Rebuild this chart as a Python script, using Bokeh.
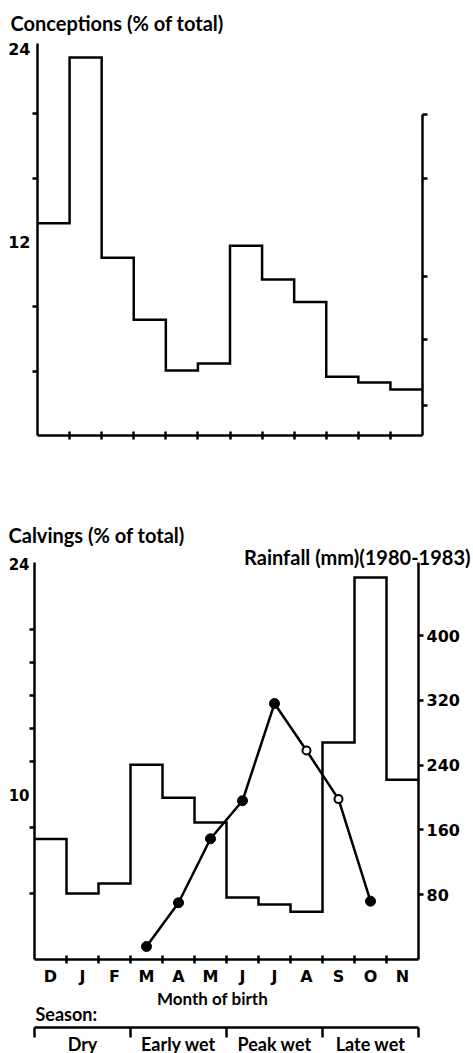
from bokeh.plotting import figure
from bokeh.layouts import column
from bokeh.models import (Range1d, LinearAxis, FixedTicker, CustomJSTickFormatter, Title)
from bokeh.embed import file_html
from bokeh.resources import INLINE
from bokeh.core.properties import value

# ---------------- data ----------------
months_full = ["Dec", "Jan", "Feb", "Mar", "Apr", "May", "Jun", "Jul", "Aug", "Sep", "Oct", "Nov"]
month_labels = ["D", "J", "F", "M", "A", "M", "J", "J", "A", "S", "O", "N"]
conceptions = [13.2, 23.5, 11.05, 7.2, 4.04, 4.47, 11.8, 9.7, 8.3, 3.66, 3.3, 2.86]
calvings = [7.3, 4.0, 4.6, 11.8, 9.8, 8.3, 3.76, 3.33, 2.9, 13.15, 23.15, 10.9]
rain_months = ["Mar", "Apr", "May", "Jun", "Jul", "Aug", "Sep", "Oct"]
rainfall = [16, 70, 149, 196, 316, 258, 198, 72]
rain_open_months = ["Aug", "Sep"]
top_pct_labels = [12, 24]
top_pct_minor = [4, 8, 16, 20]
top_right_ticks = [1.86, 5.95, 9.86, 16.0, 19.97]
bot_pct_labels = [10, 24]
bot_pct_minor = [4, 8, 12, 14, 16, 18, 20]
rain_ticks = [80, 160, 240, 320, 400]
seasons = ["Dry", "Early wet", "Peak wet", "Late wet"]
season_bounds = [0, 3, 6, 9, 12]

# ---------------- layout constants (page has no margin in bokeh's template) ----------------
W = 473
H1, H2, H3 = 500, 488, 65
WORD = "Lato"
NUM = "DejaVu Sans"
LW = 2.5

# top chart frame
L1, R1, T1, B1 = 37, 422, 42, 435
K1 = 16.125                      # px per percent
# bottom chart frame (page y = 500 + figure y)
L2, R2, T2, B2 = 34, 418, 62, 459
K2, KR = 16.5, 0.81              # px per percent, px per mm
S2 = (R2 - L2) / 12.0


def base_fig(h, yr, l, r, t, b):
    p = figure(width=W, height=h, x_range=Range1d(-0.5, 11.5), y_range=yr,
               output_backend="svg", toolbar_location=None, title=None,
               x_axis_type=None, y_axis_type=None,
               min_border_left=l, min_border_right=W - r,
               min_border_top=t, min_border_bottom=h - b)
    p.frame_align = False
    p.outline_line_color = None
    p.background_fill_color = "white"
    p.border_fill_color = "white"
    return p


def style_axis(ax):
    ax.axis_line_width = LW
    ax.axis_line_color = "black"
    ax.major_tick_line_width = LW
    ax.minor_tick_line_width = LW
    ax.major_tick_line_color = "black"
    ax.minor_tick_line_color = "black"
    ax.major_label_text_color = "black"
    ax.major_label_text_font_style = "bold"


def month_axis(with_labels):
    ax = LinearAxis(ticker=FixedTicker(ticks=list(range(12)),
                                       minor_ticks=[i + 0.5 for i in range(11)]))
    style_axis(ax)
    ax.major_tick_in = 0
    ax.major_tick_out = 0
    ax.major_tick_line_color = None
    ax.minor_tick_in = 4
    ax.minor_tick_out = 4
    if with_labels:
        ax.formatter = CustomJSTickFormatter(args=dict(labels=month_labels),
                                             code="return labels[Math.round(tick)] || ''")
        ax.major_label_text_font = NUM
        ax.major_label_text_font_size = "16px"
        ax.major_label_standoff = 3
    else:
        ax.formatter = CustomJSTickFormatter(code="return ''")
    return ax


def pct_axis(major, minor, standoff, size):
    ax = LinearAxis(ticker=FixedTicker(ticks=major, minor_ticks=minor))
    style_axis(ax)
    ax.major_tick_in = 0
    ax.major_tick_out = 0
    ax.major_tick_line_color = None
    ax.minor_tick_in = 0
    ax.minor_tick_out = 5
    ax.major_label_text_font = NUM
    ax.major_label_text_font_size = size
    ax.major_label_standoff = standoff
    return ax


def step_xy(vals):
    xs = [i - 0.5 for i in range(len(vals) + 1)]
    ys = list(vals) + [vals[-1]]
    return xs, ys


def make_title(text, align, offset, standoff):
    return Title(text=text, align=align, offset=offset, standoff=standoff,
                 text_font=WORD, text_font_style="bold", text_font_size="20px",
                 text_color="black")


# ---------------- top chart ----------------
p1 = base_fig(H1, Range1d(0, (B1 - T1) / K1), L1, R1, T1, B1)
p1.add_layout(make_title("Conceptions (% of total)", "left", 10 - L1, 17), "above")
p1.add_layout(month_axis(False), "below")
p1.add_layout(pct_axis(top_pct_labels, top_pct_minor, 2, "16px"), "left")
r1 = LinearAxis(ticker=FixedTicker(ticks=top_right_ticks), bounds=(0, top_right_ticks[-1]),
                formatter=CustomJSTickFormatter(code="return ''"))
style_axis(r1)
r1.major_tick_in = 0
r1.major_tick_out = 5
p1.add_layout(r1, "right")

xs, ys = step_xy(conceptions)
p1.step(xs, ys, mode="after", line_color="black", line_width=LW, line_join="miter")

# ---------------- bottom chart ----------------
p2 = base_fig(H2, Range1d(0, (B2 - T2) / K2), L2, R2, T2, B2)
p2.extra_y_ranges = {"rain": Range1d(0, (B2 - T2) / KR)}
p2.add_layout(make_title("Rainfall (mm)(1980-1983)", "right", R2 - 470, -12), "above")
p2.add_layout(make_title("Calvings (% of total)", "left", 8 - L2, 4), "above")
p2.add_layout(month_axis(True), "below")
p2.add_layout(pct_axis(bot_pct_labels, bot_pct_minor, 0, "15px"), "left")
r2 = LinearAxis(y_range_name="rain", ticker=FixedTicker(ticks=rain_ticks))
style_axis(r2)
r2.major_tick_in = 0
r2.major_tick_out = 5
r2.major_label_text_font = NUM
r2.major_label_text_font_size = "16px"
r2.major_label_standoff = 3
p2.add_layout(r2, "right")

xs, ys = step_xy(calvings)
p2.step(xs, ys, mode="after", line_color="black", line_width=LW, line_join="miter")

rx = [months_full.index(m) for m in rain_months]
p2.line(rx, rainfall, y_range_name="rain", line_color="black", line_width=LW)
fx = [x for x, m in zip(rx, rain_months) if m not in rain_open_months]
fy = [v for v, m in zip(rainfall, rain_months) if m not in rain_open_months]
ox = [x for x, m in zip(rx, rain_months) if m in rain_open_months]
oy = [v for v, m in zip(rainfall, rain_months) if m in rain_open_months]
p2.scatter(fx, fy, y_range_name="rain", size=10, marker="circle",
           fill_color="black", line_color="black")
p2.scatter(ox, oy, y_range_name="rain", size=8, marker="circle",
           fill_color="white", line_color="black", line_width=2)

# ---------------- month-of-birth / season bar ----------------
x0 = -0.5 - L2 / S2
x1 = 11.5 + (W - R2) / S2
p3 = figure(width=W, height=H3, x_range=Range1d(x0, x1), y_range=Range1d(H3, 0),
            output_backend="svg", toolbar_location=None, title=None,
            x_axis_type=None, y_axis_type=None,
            min_border_left=0, min_border_right=0, min_border_top=0, min_border_bottom=0)
p3.frame_align = False
p3.outline_line_color = None


def px3(px):
    return -0.5 + (px - L2) / S2


sb = [b - 0.5 for b in season_bounds]
p3.segment(x0=[sb[0]], y0=[39], x1=[sb[-1]], y1=[39], line_color="black", line_width=LW)
p3.segment(x0=sb, y0=[39] * len(sb), x1=sb, y1=[49] * len(sb), line_color="black", line_width=LW)
sc = [(season_bounds[i] + season_bounds[i + 1]) / 2 - 0.5 for i in range(len(seasons))]
p3.text(sc, [55] * len(sc), text=seasons, text_font=value(WORD), text_font_style="bold",
        text_font_size="18px", text_align="center", text_baseline="middle", text_color="black")
p3.text([px3(35)], [25], text=["Season:"], text_font=value(WORD), text_font_style="bold",
        text_font_size="18px", text_align="left", text_baseline="middle", text_color="black")
p3.text([px3(212)], [10], text=["Month of birth"], text_font=value(WORD), text_font_style="bold",
        text_font_size="17px", text_align="center", text_baseline="middle", text_color="black")

layout = column(p1, p2, p3, spacing=0)
open("out.html", "w").write(file_html(layout, INLINE))
